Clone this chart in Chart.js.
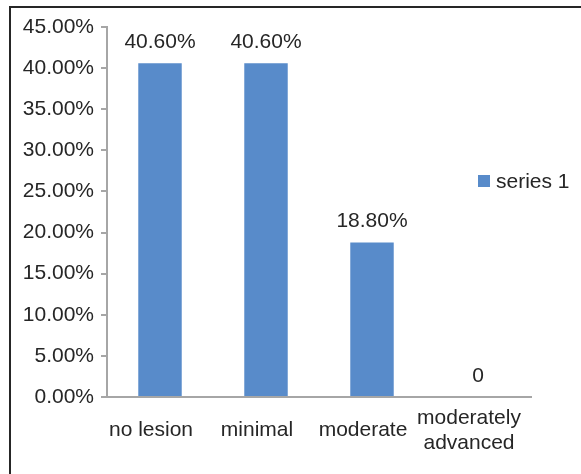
<!DOCTYPE html>
<html>
<head>
<meta charset="utf-8">
<script src="https://cdn.jsdelivr.net/npm/chart.js@4"></script>
<style>
    html, body { margin: 0; background: #fff; overflow: hidden; }
    #chart { display: block; }
</style>
</head>
<body>
<canvas id="chart" width="581" height="474"></canvas>
<script>
let categories = ['no lesion', 'minimal', 'moderate', ['moderately', 'advanced']];
let seriesName = 'series 1';
let values = [40.6, 40.6, 18.8, 0];
let valueLabels = ['40.60%', '40.60%', '18.80%', '0'];
let yMax = 45;
let yStep = 5;

const textColor = '#262626';
const axisColor = '#a6a6a6';
const barColor = '#588bca';
const fontSize = 21;
const fontFamily = "'Liberation Sans', Arial, sans-serif";

Chart.defaults.font.family = fontFamily;
Chart.defaults.font.size = fontSize;
Chart.defaults.color = textColor;

// outer frame: only the top and left edges fall inside the canvas
const frame = {
    id: 'frame',
    beforeDraw(chart) {
        const ctx = chart.ctx;
        ctx.save();
        ctx.fillStyle = '#fff';
        ctx.fillRect(0, 0, chart.width, chart.height);
        ctx.fillStyle = '#262626';
        ctx.fillRect(9, 6, chart.width - 9, 2);
        ctx.fillRect(9, 6, 2, chart.height - 6);
        ctx.restore();
    }
};

// numbers printed above each bar
const barValues = {
    id: 'barValues',
    afterDatasetsDraw(chart) {
        const ctx = chart.ctx;
        const bars = chart.getDatasetMeta(0).data;
        ctx.save();
        ctx.font = fontSize + 'px ' + fontFamily;
        ctx.fillStyle = textColor;
        ctx.textAlign = 'center';
        ctx.textBaseline = 'alphabetic';
        bars.forEach((bar, i) => {
            ctx.fillText(valueLabels[i], bar.x, bar.y - 15);
        });
        ctx.restore();
    }
};

// single-entry legend at the right
const sideLegend = {
    id: 'sideLegend',
    afterDraw(chart) {
        const ctx = chart.ctx;
        const area = chart.chartArea;
        const x = area.right - 53;
        const y = 181;
        ctx.save();
        ctx.fillStyle = barColor;
        ctx.fillRect(x, y - 6, 12, 12);
        ctx.font = fontSize + 'px ' + fontFamily;
        ctx.fillStyle = textColor;
        ctx.textAlign = 'left';
        ctx.textBaseline = 'middle';
        ctx.fillText(chart.data.datasets[0].label, x + 18, y + 1);
        ctx.restore();
    }
};

new Chart(document.getElementById('chart'), {
    type: 'bar',
    data: {
        labels: categories,
        datasets: [{
            label: seriesName,
            data: values,
            backgroundColor: barColor,
            borderWidth: 0,
            categoryPercentage: 0.41,
            barPercentage: 1
        }]
    },
    options: {
        responsive: false,
        animation: false,
        layout: { padding: { left: 9, right: 50, top: 27, bottom: 0 } },
        plugins: {
            legend: { display: false },
            tooltip: { enabled: false }
        },
        scales: {
            x: {
                grid: { drawOnChartArea: false, drawTicks: false },
                border: { color: axisColor, width: 2 },
                ticks: { padding: 21, labelOffset: -9, maxRotation: 0, autoSkip: false, crossAlign: 'center', color: textColor },
                afterFit(scale) { scale.height = 77; }
            },
            y: {
                min: 0,
                max: yMax,
                ticks: {
                    stepSize: yStep,
                    padding: 7,
                    color: textColor,
                    callback: v => v.toFixed(2) + '%'
                },
                grid: { drawOnChartArea: false, tickLength: 6, color: axisColor, lineWidth: 2 },
                border: { color: axisColor, width: 2 },
                afterFit(scale) { scale.width = 98; }
            }
        }
    },
    plugins: [frame, barValues, sideLegend]
});
</script>
</body>
</html>
